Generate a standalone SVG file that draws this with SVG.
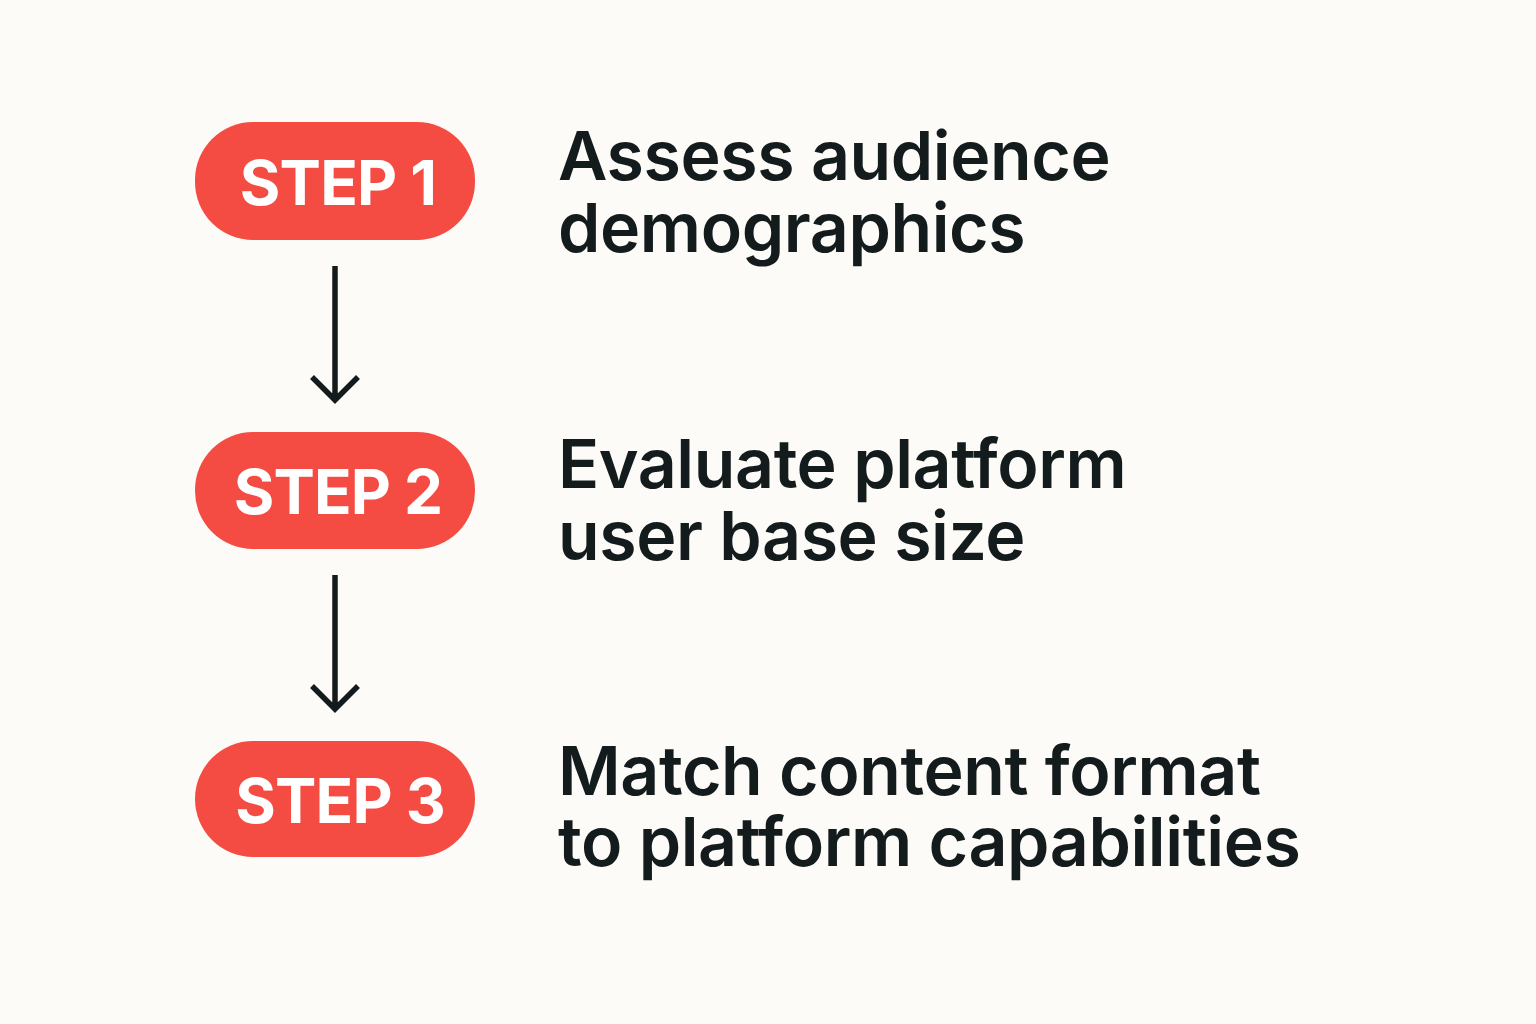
<svg xmlns="http://www.w3.org/2000/svg" width="1536" height="1024" viewBox="0 0 1536 1024">
<style>
.pill{fill:#F44C43;}
.pt{font-family:Inter,"Liberation Sans",sans-serif;font-weight:700;font-size:62px;letter-spacing:-0.8px;fill:#FFFFFF;text-anchor:middle;}
.lb{font-family:Inter,"Liberation Sans",sans-serif;font-weight:600;font-size:68px;letter-spacing:-0.4px;fill:#141B1D;}
.ar{stroke:#141B1D;stroke-width:5.5;fill:none;}
</style>
<rect width="1536" height="1024" fill="#FCFBF7"/>
<g id="step1"><rect class="pill" x="195" y="122" width="280" height="118" rx="58"/><text class="pt" x="338" y="205">STEP 1</text></g>
<g id="step2"><rect class="pill" x="195" y="432" width="280" height="117" rx="58"/><text class="pt" x="338" y="514">STEP 2</text></g>
<g id="step3"><rect class="pill" x="195" y="741" width="280" height="116" rx="58"/><text class="pt" x="340" y="823">STEP 3</text></g>
<g id="label1"><text class="lb" x="558" y="180">Assess audience</text><text class="lb" x="558" y="252">demographics</text></g>
<g id="label2"><text class="lb" x="558" y="488">Evaluate platform</text><text class="lb" x="558" y="560">user base size</text></g>
<g id="label3"><text class="lb" x="558" y="795">Match content format</text><text class="lb" x="558" y="866">to platform capabilities</text></g>
<g id="connectors">
<path class="ar" d="M335 266V398M312 377L335 400L358 377"/>
<path class="ar" d="M335 575V707M312 686L335 709L358 686"/>
</g>
</svg>
